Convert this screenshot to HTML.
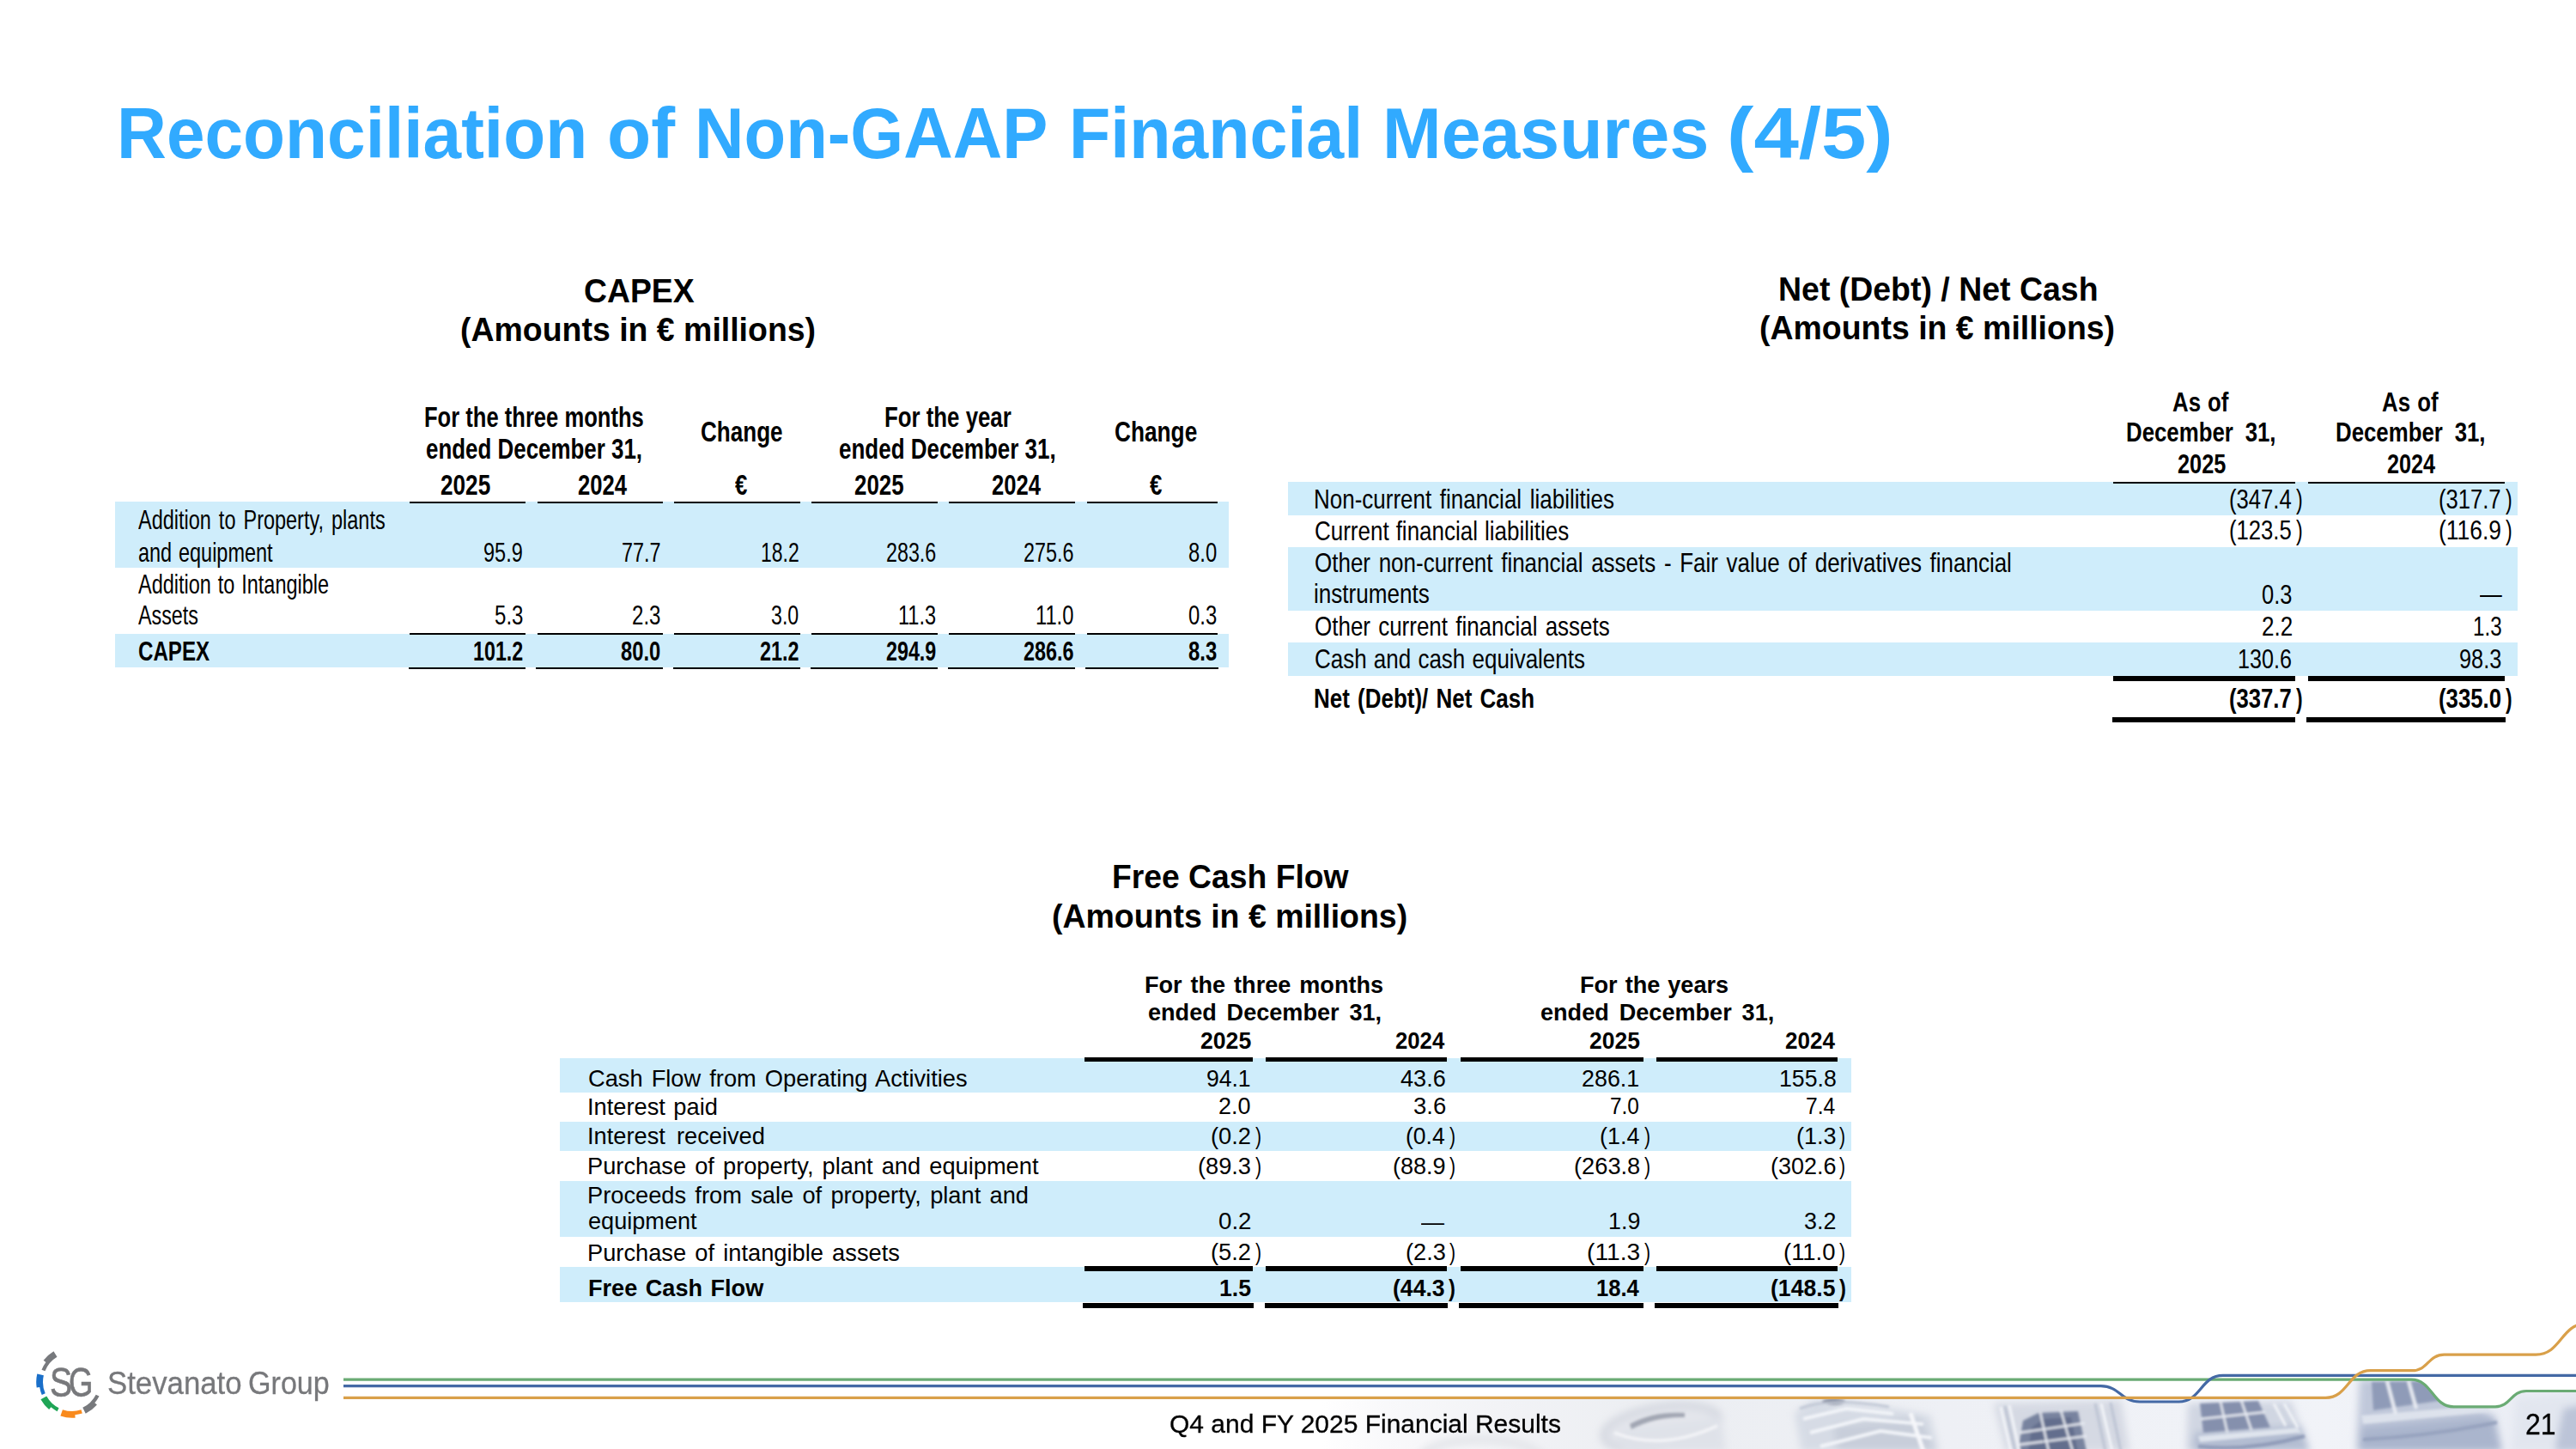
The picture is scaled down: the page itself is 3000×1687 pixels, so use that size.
<!DOCTYPE html>
<html><head><meta charset="utf-8"><title>Reconciliation of Non-GAAP Financial Measures (4/5)</title>
<style>
html,body{margin:0;padding:0;background:#fff}
body{width:3000px;height:1687px;position:relative;overflow:hidden;font-family:"Liberation Sans",sans-serif;color:#000}
.t{position:absolute;white-space:pre;line-height:1;transform-origin:0 0;display:block}
.r{position:absolute}
svg{position:absolute;left:0;top:0}
</style></head><body>
<svg width="3000" height="1687" viewBox="0 0 3000 1687">

<defs>
<linearGradient id="pg" gradientUnits="userSpaceOnUse" x1="1540" y1="0" x2="3000" y2="0">
<stop offset="0" stop-color="#ffffff"/><stop offset="0.05" stop-color="#f9f9fb"/><stop offset="0.14" stop-color="#f2f3f6"/><stop offset="0.26" stop-color="#eceef2"/>
<stop offset="0.5" stop-color="#eef0f5"/><stop offset="0.8" stop-color="#f1f3f8"/><stop offset="1" stop-color="#e9ecf4"/>
</linearGradient>
<filter id="bl" x="-20%" y="-50%" width="140%" height="200%"><feGaussianBlur stdDeviation="4"/></filter>
<filter id="bs" x="-20%" y="-50%" width="140%" height="200%"><feGaussianBlur stdDeviation="1.4"/></filter>
<clipPath id="co"><path d="M400,1627.3 H2708.6 C2734.6,1627.2 2734.6,1595.7 2760.7,1595.7 H2809.2 C2827.8,1595.7 2827.8,1577.1 2846.5,1577.1 H2953.3 C2982.7,1577.1 2982.7,1541 3012,1541 V1700 H400 Z"/></clipPath>
<clipPath id="cg"><path d="M400,1606.2 H2808 C2832.8,1606.3 2832.8,1637.8 2857.6,1637.8 H2906 C2924.0,1637.8 2924.0,1619.5 2942,1619.5 H3001 V1700 H400 Z"/></clipPath>
</defs>
<g clip-path="url(#co)"><g clip-path="url(#cg)">
<rect x="1540" y="1590" width="1460" height="100" fill="url(#pg)"/>
<g filter="url(#bl)">
 <ellipse cx="1725" cy="1700" rx="70" ry="24" fill="none" stroke="#e4e6ea" stroke-width="10"/>
 <ellipse cx="1935" cy="1662" rx="68" ry="24" fill="#e4e6ec" stroke="#d6d9e1" stroke-width="9" transform="rotate(-9 1935 1662)"/>
 <path d="M1890,1690 L1885,1665 L2005,1650 L2010,1690 Z" fill="#dfe2e9"/>
 <path d="M2090,1645 L2112,1630 L2205,1640 L2248,1648 L2258,1690 L2098,1690 Z" fill="#d6dbe5"/>
 <path d="M2135,1660 L2235,1650 L2255,1690 L2140,1690 Z" fill="#c8ceda"/>
 <path d="M2322,1634 L2470,1630 L2480,1690 L2336,1690 Z" fill="#d5d9e3"/>
 <path d="M2546,1690 L2548,1634 L2668,1631 L2690,1690 Z" fill="#d0d6e2"/>
 <path d="M2553,1690 L2556,1668 L2680,1660 L2690,1690 Z" fill="#b3bdd2"/>
 <path d="M2744,1690 L2748,1606 L2850,1606 L2898,1645 L2912,1690 Z" fill="#c0c8da"/>
 <path d="M2748,1690 L2750,1662 L2905,1648 L2914,1690 Z" fill="#aab5cd"/>
 <path d="M2925,1690 L2930,1628 L3010,1622 L3010,1690 Z" fill="#e2e6ef"/>
 <path d="M2975,1690 L2985,1640 L3010,1635 L3010,1690 Z" fill="#bcc4d8"/>
</g>
<g filter="url(#bs)">
 <path d="M1898,1658 Q1925,1643 1962,1645 L1962,1650 Q1928,1649 1900,1664 Z" fill="#a1a6b2"/>
 <ellipse cx="2136" cy="1632" rx="14" ry="3.5" fill="#70768a"/>
 <path d="M2350,1690 L2356,1654 L2374,1645 L2420,1643 L2430,1690 Z" fill="#78839f"/>
 <path d="M2566,1668 L2562,1634 L2630,1631 L2644,1662 Z" fill="#8590ad"/>
 <path d="M2764,1642 L2762,1609 L2828,1608 L2846,1630 Z" fill="#8f9bb8"/>
 <path d="M2750,1648 L2896,1636 L2900,1644 L2752,1658 Z" fill="#dde2ec"/>
 <path d="M2560,1672 L2676,1662 L2680,1668 L2562,1679 Z" fill="#dfe4ed"/>
 <g stroke-width="3" fill="none">
  <path d="M2330,1638 L2342,1690 M2340,1636 L2352,1690" stroke="#f4f6fa"/>
  <path d="M2335,1637 L2347,1690 M2440,1634 L2452,1690 M2458,1633 L2470,1690" stroke="#bcc3d3"/>
  <path d="M2447,1634 L2460,1690" stroke="#f4f6fa"/>
  <path d="M2100,1652 L2150,1640 L2205,1646 M2108,1668 L2170,1652 L2240,1658 M2120,1684 L2190,1666 L2250,1674" stroke="#f3f5f9" stroke-width="4"/>
  <path d="M2096,1640 Q2130,1626 2200,1638" stroke="#bfc6d4" stroke-width="3"/>
  <path d="M2225,1645 L2240,1690" stroke="#f6f7fa" stroke-width="5"/>
  <path d="M1880,1668 Q1935,1690 2000,1660" stroke="#f2f3f6" stroke-width="4"/>
  <path d="M2660,1634 L2676,1662 M2648,1634 L2662,1660" stroke="#f2f4f8"/>
  <path d="M2560,1684 Q2620,1690 2684,1672" stroke="#8e9ab7" stroke-width="4"/>
  <path d="M2752,1676 Q2830,1672 2908,1656" stroke="#95a1bd" stroke-width="4"/>
 </g>
 <path d="M2362,1690 L2366,1662 L2380,1652 L2412,1650 L2420,1690 Z" fill="#636e8d"/>
 <g stroke="#e9ecf3" stroke-width="2.4" fill="none">
  <path d="M2376,1644 L2386,1690 M2400,1642 L2414,1690 M2352,1668 L2428,1657 M2351,1682 L2430,1672"/>
  <path d="M2586,1632 L2594,1668 M2610,1630 L2622,1665 M2563,1652 L2638,1644"/>
  <path d="M2780,1608 L2790,1646 M2805,1608 L2814,1640" stroke-width="4"/>
 </g>
</g>
</g></g>

<g fill="none" stroke-width="3.2">
<path d="M400,1606.2 H2808 C2832.8,1606.3 2832.8,1637.8 2857.6,1637.8 H2906 C2924.0,1637.8 2924.0,1619.5 2942,1619.5 H3001" stroke="#6aab74"/>
<path d="M400,1613.7 H2446.6 C2469.3,1613.8 2469.3,1632 2492,1632 H2537.4 C2563.1,1632 2563.1,1601.4 2588.7,1601.4 H3001" stroke="#4469a5"/>
<path d="M400,1627.3 H2708.6 C2734.6,1627.2 2734.6,1595.7 2760.7,1595.7 H2809.2 C2827.8,1595.7 2827.8,1577.1 2846.5,1577.1 H2953.3 C2982.7,1577.1 2982.7,1541 3012,1541" stroke="#d9a04a"/>
</g>
<path d="M66.49,1579.86 L62.47,1573.17 A41.8,41.8 0 0 0 50.62,1583.84 L53.41,1585.95 A38.3,38.3 0 0 0 48.49,1594.65 L52.48,1596.26 A34.0,34.0 0 0 1 66.49,1579.86 Z" fill="#77797d"/>
<path d="M50.87,1601.35 L43.27,1599.60 A41.8,41.8 0 0 0 42.71,1615.54 L46.17,1614.99 A38.3,38.3 0 0 0 48.74,1623.97 L52.70,1622.28 A34.0,34.0 0 0 1 50.87,1601.35 Z" fill="#1a6fc9"/>
<path d="M54.26,1625.48 L47.44,1629.27 A41.8,41.8 0 0 0 57.13,1641.02 L59.38,1638.34 A38.3,38.3 0 0 0 66.61,1643.13 L68.56,1639.29 A34.0,34.0 0 0 1 54.26,1625.48 Z" fill="#1fa556"/>
<path d="M72.93,1641.15 L70.39,1648.52 A41.8,41.8 0 0 0 87.64,1650.64 L87.34,1647.15 A38.3,38.3 0 0 0 95.84,1645.43 L94.51,1641.34 A34.0,34.0 0 0 1 72.93,1641.15 Z" fill="#f98a1c"/>
<path d="M96.30,1638.76 L99.72,1645.77 A41.8,41.8 0 0 0 112.95,1635.62 L110.31,1633.33 A38.3,38.3 0 0 0 115.53,1625.59 L111.69,1623.64 A34.0,34.0 0 0 1 96.30,1638.76 Z" fill="#77797d"/>
</svg>
<div class="r" style="left:134.3px;top:584.3px;width:1297.2px;height:76.9px;background:#cfedfb"></div>
<div class="r" style="left:134.3px;top:737.8px;width:1297.2px;height:39.0px;background:#cfedfb"></div>
<div class="r" style="left:477.3px;top:584.0px;width:134.5px;height:2.0px;background:#000"></div>
<div class="r" style="left:477.3px;top:737.3px;width:134.5px;height:2.0px;background:#000"></div>
<div class="r" style="left:475.6px;top:777.2px;width:136.5px;height:2.0px;background:#000"></div>
<div class="r" style="left:625.5px;top:584.0px;width:146.2px;height:2.0px;background:#000"></div>
<div class="r" style="left:625.5px;top:737.3px;width:146.2px;height:2.0px;background:#000"></div>
<div class="r" style="left:623.8px;top:777.2px;width:148.2px;height:2.0px;background:#000"></div>
<div class="r" style="left:785.2px;top:584.0px;width:146.7px;height:2.0px;background:#000"></div>
<div class="r" style="left:785.2px;top:737.3px;width:146.7px;height:2.0px;background:#000"></div>
<div class="r" style="left:783.5px;top:777.2px;width:148.7px;height:2.0px;background:#000"></div>
<div class="r" style="left:945.3px;top:584.0px;width:146.4px;height:2.0px;background:#000"></div>
<div class="r" style="left:945.3px;top:737.3px;width:146.4px;height:2.0px;background:#000"></div>
<div class="r" style="left:943.6px;top:777.2px;width:148.4px;height:2.0px;background:#000"></div>
<div class="r" style="left:1105.4px;top:584.0px;width:146.2px;height:2.0px;background:#000"></div>
<div class="r" style="left:1105.4px;top:737.3px;width:146.2px;height:2.0px;background:#000"></div>
<div class="r" style="left:1103.7px;top:777.2px;width:148.2px;height:2.0px;background:#000"></div>
<div class="r" style="left:1265.5px;top:584.0px;width:152.9px;height:2.0px;background:#000"></div>
<div class="r" style="left:1265.5px;top:737.3px;width:152.9px;height:2.0px;background:#000"></div>
<div class="r" style="left:1263.8px;top:777.2px;width:154.9px;height:2.0px;background:#000"></div>
<div class="r" style="left:1500.2px;top:560.7px;width:1431.8px;height:38.9px;background:#cfedfb"></div>
<div class="r" style="left:1500.2px;top:637.0px;width:1431.8px;height:73.6px;background:#cfedfb"></div>
<div class="r" style="left:1500.2px;top:748.2px;width:1431.8px;height:38.6px;background:#cfedfb"></div>
<div class="r" style="left:2461.2px;top:560.7px;width:211.8px;height:2.1px;background:#000"></div>
<div class="r" style="left:2461.2px;top:787.3px;width:211.8px;height:5.8px;background:#000"></div>
<div class="r" style="left:2687.9px;top:560.7px;width:229.5px;height:2.1px;background:#000"></div>
<div class="r" style="left:2687.9px;top:787.3px;width:229.5px;height:5.8px;background:#000"></div>
<div class="r" style="left:2459.5px;top:834.5px;width:213.9px;height:6.0px;background:#000"></div>
<div class="r" style="left:2685.8px;top:834.5px;width:232.1px;height:6.0px;background:#000"></div>
<div class="r" style="left:652.1px;top:1231.5px;width:1503.6px;height:40.2px;background:#cfedfb"></div>
<div class="r" style="left:652.1px;top:1305.5px;width:1503.6px;height:34.7px;background:#cfedfb"></div>
<div class="r" style="left:652.1px;top:1374.7px;width:1503.6px;height:65.7px;background:#cfedfb"></div>
<div class="r" style="left:652.1px;top:1475.0px;width:1503.6px;height:40.8px;background:#cfedfb"></div>
<div class="r" style="left:1263.2px;top:1230.6px;width:196.0px;height:5.4px;background:#000"></div>
<div class="r" style="left:1263.2px;top:1474.3px;width:196.0px;height:6.0px;background:#000"></div>
<div class="r" style="left:1474.2px;top:1230.6px;width:211.3px;height:5.4px;background:#000"></div>
<div class="r" style="left:1474.2px;top:1474.3px;width:211.3px;height:6.0px;background:#000"></div>
<div class="r" style="left:1700.8px;top:1230.6px;width:213.0px;height:5.4px;background:#000"></div>
<div class="r" style="left:1700.8px;top:1474.3px;width:213.0px;height:6.0px;background:#000"></div>
<div class="r" style="left:1929.1px;top:1230.6px;width:211.4px;height:5.4px;background:#000"></div>
<div class="r" style="left:1929.1px;top:1474.3px;width:211.4px;height:6.0px;background:#000"></div>
<div class="r" style="left:1261.1px;top:1517.4px;width:198.5px;height:6.0px;background:#000"></div>
<div class="r" style="left:1472.5px;top:1517.4px;width:213.0px;height:6.0px;background:#000"></div>
<div class="r" style="left:1699.1px;top:1517.4px;width:215.1px;height:6.0px;background:#000"></div>
<div class="r" style="left:1927.2px;top:1517.4px;width:213.5px;height:6.0px;background:#000"></div>
<span class="t" style="left:136.24px;top:113px;font-size:84.3px;transform:scaleX(0.9514);font-weight:bold;color:#31aaff">Reconciliation</span>
<span class="t" style="left:706.62px;top:113px;font-size:84.3px;transform:scaleX(0.9937);font-weight:bold;color:#31aaff">of</span>
<span class="t" style="left:808.98px;top:113px;font-size:84.3px;transform:scaleX(0.9448);font-weight:bold;color:#31aaff">Non-GAAP</span>
<span class="t" style="left:1244.92px;top:113px;font-size:84.3px;transform:scaleX(0.9364);font-weight:bold;color:#31aaff">Financial</span>
<span class="t" style="left:1609.71px;top:113px;font-size:84.3px;transform:scaleX(0.9778);font-weight:bold;color:#31aaff">Measures</span>
<span class="t" style="left:2011.13px;top:113px;font-size:84.3px;transform:scaleX(1.1177);font-weight:bold;color:#31aaff">(4/5)</span>
<span class="t" style="left:679.52px;top:320px;font-size:38.2px;transform:scaleX(0.9771);font-weight:bold">CAPEX</span>
<span class="t" style="left:535.62px;top:365px;font-size:38.2px;transform:scaleX(0.9808);font-weight:bold">(Amounts in € millions)</span>
<span class="t" style="left:2071.24px;top:318px;font-size:38.2px;transform:scaleX(0.9809);font-weight:bold">Net (Debt) / Net Cash</span>
<span class="t" style="left:2049.42px;top:363px;font-size:38.2px;transform:scaleX(0.9808);font-weight:bold">(Amounts in € millions)</span>
<span class="t" style="left:1294.85px;top:1002px;font-size:38.2px;transform:scaleX(0.9764);font-weight:bold">Free Cash Flow</span>
<span class="t" style="left:1225.42px;top:1048px;font-size:38.2px;transform:scaleX(0.9810);font-weight:bold">(Amounts in € millions)</span>
<span class="t" style="left:493.97px;top:469px;font-size:33.4px;transform:scaleX(0.7660);font-weight:bold">For the three months</span>
<span class="t" style="left:495.72px;top:506px;font-size:33.4px;transform:scaleX(0.7761);font-weight:bold">ended December 31,</span>
<span class="t" style="left:816.02px;top:486px;font-size:33.4px;transform:scaleX(0.7802);font-weight:bold">Change</span>
<span class="t" style="left:1029.75px;top:469px;font-size:33.4px;transform:scaleX(0.7730);font-weight:bold">For the year</span>
<span class="t" style="left:977.12px;top:506px;font-size:33.4px;transform:scaleX(0.7780);font-weight:bold">ended December 31,</span>
<span class="t" style="left:1298.41px;top:486px;font-size:33.4px;transform:scaleX(0.7859);font-weight:bold">Change</span>
<span class="t" style="left:512.82px;top:548px;font-size:33.4px;transform:scaleX(0.7839);font-weight:bold">2025</span>
<span class="t" style="left:672.73px;top:548px;font-size:33.4px;transform:scaleX(0.7679);font-weight:bold">2024</span>
<span class="t" style="left:855.60px;top:548px;font-size:33.4px;transform:scaleX(0.7722);font-weight:bold">€</span>
<span class="t" style="left:994.82px;top:548px;font-size:33.4px;transform:scaleX(0.7757);font-weight:bold">2025</span>
<span class="t" style="left:1154.83px;top:548px;font-size:33.4px;transform:scaleX(0.7665);font-weight:bold">2024</span>
<span class="t" style="left:1338.70px;top:548px;font-size:33.4px;transform:scaleX(0.7722);font-weight:bold">€</span>
<span class="t" style="left:161.20px;top:589px;font-size:32.0px;transform:scaleX(0.7330);word-spacing:3.52px">Addition to Property, plants</span>
<span class="t" style="left:160.87px;top:627px;font-size:32.0px;transform:scaleX(0.7330);word-spacing:1.86px">and equipment</span>
<span class="t" style="left:161.20px;top:664px;font-size:32.0px;transform:scaleX(0.7330);word-spacing:1.98px">Addition to Intangible</span>
<span class="t" style="left:161.20px;top:700px;font-size:32.0px;transform:scaleX(0.7282)">Assets</span>
<span class="t" style="left:160.85px;top:742px;font-size:32.0px;transform:scaleX(0.7543);font-weight:bold">CAPEX</span>
<span class="t" style="left:563.37px;top:627px;font-size:32.0px;transform:scaleX(0.7341)">95.9</span>
<span class="t" style="left:723.77px;top:627px;font-size:32.0px;transform:scaleX(0.7308)">77.7</span>
<span class="t" style="left:885.66px;top:627px;font-size:32.0px;transform:scaleX(0.7178)">18.2</span>
<span class="t" style="left:1031.57px;top:627px;font-size:32.0px;transform:scaleX(0.7281)">283.6</span>
<span class="t" style="left:1191.67px;top:627px;font-size:32.0px;transform:scaleX(0.7294)">275.6</span>
<span class="t" style="left:1383.86px;top:627px;font-size:32.0px;transform:scaleX(0.7449)">8.0</span>
<span class="t" style="left:575.65px;top:700px;font-size:32.0px;transform:scaleX(0.7520)">5.3</span>
<span class="t" style="left:735.85px;top:700px;font-size:32.0px;transform:scaleX(0.7520)">2.3</span>
<span class="t" style="left:898.18px;top:700px;font-size:32.0px;transform:scaleX(0.7239)">3.0</span>
<span class="t" style="left:1045.83px;top:700px;font-size:32.0px;transform:scaleX(0.7354)">11.3</span>
<span class="t" style="left:1205.72px;top:700px;font-size:32.0px;transform:scaleX(0.7407)">11.0</span>
<span class="t" style="left:1383.86px;top:700px;font-size:32.0px;transform:scaleX(0.7449)">0.3</span>
<span class="t" style="left:550.85px;top:742px;font-size:32.0px;transform:scaleX(0.7272);font-weight:bold">101.2</span>
<span class="t" style="left:723.06px;top:742px;font-size:32.0px;transform:scaleX(0.7423);font-weight:bold">80.0</span>
<span class="t" style="left:884.97px;top:742px;font-size:32.0px;transform:scaleX(0.7291);font-weight:bold">21.2</span>
<span class="t" style="left:1031.57px;top:742px;font-size:32.0px;transform:scaleX(0.7281);font-weight:bold">294.9</span>
<span class="t" style="left:1191.67px;top:742px;font-size:32.0px;transform:scaleX(0.7294);font-weight:bold">286.6</span>
<span class="t" style="left:1383.86px;top:742px;font-size:32.0px;transform:scaleX(0.7449);font-weight:bold">8.3</span>
<span class="t" style="left:2530.40px;top:452px;font-size:32.0px;transform:scaleX(0.8065);word-spacing:1.12px;font-weight:bold">As of</span>
<span class="t" style="left:2476.49px;top:487px;font-size:32.0px;transform:scaleX(0.8065);word-spacing:8.29px;font-weight:bold">December 31,</span>
<span class="t" style="left:2536.21px;top:524px;font-size:32.0px;transform:scaleX(0.7912);font-weight:bold">2025</span>
<span class="t" style="left:2774.40px;top:452px;font-size:32.0px;transform:scaleX(0.8065);word-spacing:1.24px;font-weight:bold">As of</span>
<span class="t" style="left:2720.49px;top:487px;font-size:32.0px;transform:scaleX(0.8065);word-spacing:8.29px;font-weight:bold">December 31,</span>
<span class="t" style="left:2780.01px;top:524px;font-size:32.0px;transform:scaleX(0.7885);font-weight:bold">2024</span>
<span class="t" style="left:1530.36px;top:566px;font-size:31.6px;transform:scaleX(0.8225);word-spacing:2.86px">Non-current financial liabilities</span>
<span class="t" style="left:1531.18px;top:603px;font-size:31.6px;transform:scaleX(0.8225);word-spacing:0.94px">Current financial liabilities</span>
<span class="t" style="left:1531.18px;top:640px;font-size:31.6px;transform:scaleX(0.8225);word-spacing:2.95px">Other non-current financial assets - Fair value of derivatives financial</span>
<span class="t" style="left:1530.35px;top:676px;font-size:31.6px;transform:scaleX(0.8262)">instruments</span>
<span class="t" style="left:1531.18px;top:714px;font-size:31.6px;transform:scaleX(0.8225);word-spacing:2.35px">Other current financial assets</span>
<span class="t" style="left:1531.18px;top:752px;font-size:31.6px;transform:scaleX(0.8225);word-spacing:1.19px">Cash and cash equivalents</span>
<span class="t" style="left:1530.36px;top:798px;font-size:31.6px;transform:scaleX(0.8225);word-spacing:2.35px;font-weight:bold">Net (Debt)/ Net Cash</span>
<span class="t" style="left:2596.39px;top:566px;font-size:31.6px;transform:scaleX(0.8124)">(347.4</span>
<span class="t" style="left:2674.30px;top:566px;font-size:31.6px;transform:scaleX(0.7333)">)</span>
<span class="t" style="left:2840.19px;top:566px;font-size:31.6px;transform:scaleX(0.8102)">(317.7</span>
<span class="t" style="left:2918.30px;top:566px;font-size:31.6px;transform:scaleX(0.7333)">)</span>
<span class="t" style="left:2596.39px;top:602px;font-size:31.6px;transform:scaleX(0.8124)">(123.5</span>
<span class="t" style="left:2674.30px;top:602px;font-size:31.6px;transform:scaleX(0.7333)">)</span>
<span class="t" style="left:2840.16px;top:602px;font-size:31.6px;transform:scaleX(0.8370)">(116.9</span>
<span class="t" style="left:2918.30px;top:602px;font-size:31.6px;transform:scaleX(0.7333)">)</span>
<span class="t" style="left:2633.79px;top:677px;font-size:31.6px;transform:scaleX(0.8052)">0.3</span>
<span class="t" style="left:2633.78px;top:714px;font-size:31.6px;transform:scaleX(0.8247)">2.2</span>
<span class="t" style="left:2879.57px;top:714px;font-size:31.6px;transform:scaleX(0.7642)">1.3</span>
<span class="t" style="left:2606.31px;top:752px;font-size:31.6px;transform:scaleX(0.7949)">130.6</span>
<span class="t" style="left:2863.90px;top:752px;font-size:31.6px;transform:scaleX(0.8011)">98.3</span>
<span class="t" style="left:2596.39px;top:798px;font-size:31.6px;transform:scaleX(0.8124);font-weight:bold">(337.7</span>
<span class="t" style="left:2674.40px;top:798px;font-size:31.6px;transform:scaleX(0.7222);font-weight:bold">)</span>
<span class="t" style="left:2840.19px;top:798px;font-size:31.6px;transform:scaleX(0.8147);font-weight:bold">(335.0</span>
<span class="t" style="left:2917.80px;top:798px;font-size:31.6px;transform:scaleX(0.7222);font-weight:bold">)</span>
<span class="t" style="left:1333.31px;top:1133px;font-size:27.3px;transform:scaleX(0.9925);word-spacing:2.40px;font-weight:bold">For the three months</span>
<span class="t" style="left:1336.51px;top:1165px;font-size:27.3px;transform:scaleX(0.9925);word-spacing:4.31px;font-weight:bold">ended December 31,</span>
<span class="t" style="left:1839.51px;top:1133px;font-size:27.3px;transform:scaleX(0.9925);word-spacing:1.47px;font-weight:bold">For the years</span>
<span class="t" style="left:1793.61px;top:1165px;font-size:27.3px;transform:scaleX(0.9925);word-spacing:4.41px;font-weight:bold">ended December 31,</span>
<span class="t" style="left:1397.70px;top:1198px;font-size:27.3px;transform:scaleX(0.9745);font-weight:bold">2025</span>
<span class="t" style="left:1624.70px;top:1198px;font-size:27.3px;transform:scaleX(0.9424);font-weight:bold">2024</span>
<span class="t" style="left:1850.80px;top:1198px;font-size:27.3px;transform:scaleX(0.9695);font-weight:bold">2025</span>
<span class="t" style="left:2078.80px;top:1198px;font-size:27.3px;transform:scaleX(0.9538);font-weight:bold">2024</span>
<span class="t" style="left:684.60px;top:1242px;font-size:27.3px;transform:scaleX(0.9980);word-spacing:2.52px">Cash Flow from Operating Activities</span>
<span class="t" style="left:683.60px;top:1275px;font-size:27.3px;transform:scaleX(0.9980);word-spacing:1.95px">Interest paid</span>
<span class="t" style="left:683.60px;top:1309px;font-size:27.3px;transform:scaleX(0.9980);word-spacing:5.50px">Interest received</span>
<span class="t" style="left:683.60px;top:1344px;font-size:27.3px;transform:scaleX(0.9980);word-spacing:2.52px">Purchase of property, plant and equipment</span>
<span class="t" style="left:683.60px;top:1378px;font-size:27.3px;transform:scaleX(0.9980);word-spacing:2.72px">Proceeds from sale of property, plant and</span>
<span class="t" style="left:684.61px;top:1408px;font-size:27.3px;transform:scaleX(0.9930)">equipment</span>
<span class="t" style="left:683.60px;top:1445px;font-size:27.3px;transform:scaleX(0.9980);word-spacing:2.66px">Purchase of intangible assets</span>
<span class="t" style="left:684.81px;top:1486px;font-size:27.3px;transform:scaleX(0.9925);word-spacing:2.02px;font-weight:bold">Free Cash Flow</span>
<span class="t" style="left:1404.93px;top:1242px;font-size:27.3px;transform:scaleX(0.9716)">94.1</span>
<span class="t" style="left:1631.10px;top:1242px;font-size:27.3px;transform:scaleX(0.9933)">43.6</span>
<span class="t" style="left:1842.32px;top:1242px;font-size:27.3px;transform:scaleX(0.9845)">286.1</span>
<span class="t" style="left:2071.95px;top:1242px;font-size:27.3px;transform:scaleX(0.9765)">155.8</span>
<span class="t" style="left:1418.71px;top:1274px;font-size:27.3px;transform:scaleX(0.9873)">2.0</span>
<span class="t" style="left:1645.69px;top:1274px;font-size:27.3px;transform:scaleX(1.0066)">3.6</span>
<span class="t" style="left:1875.11px;top:1274px;font-size:27.3px;transform:scaleX(0.8949)">7.0</span>
<span class="t" style="left:2102.90px;top:1274px;font-size:27.3px;transform:scaleX(0.9003)">7.4</span>
<span class="t" style="left:1410.20px;top:1309px;font-size:27.3px;transform:scaleX(0.9988)">(0.2</span>
<span class="t" style="left:1461.60px;top:1309px;font-size:27.3px;transform:scaleX(0.7750)">)</span>
<span class="t" style="left:1637.13px;top:1309px;font-size:27.3px;transform:scaleX(0.9726)">(0.4</span>
<span class="t" style="left:1687.90px;top:1309px;font-size:27.3px;transform:scaleX(0.7750)">)</span>
<span class="t" style="left:1863.01px;top:1309px;font-size:27.3px;transform:scaleX(0.9857)">(1.4</span>
<span class="t" style="left:1914.60px;top:1309px;font-size:27.3px;transform:scaleX(0.7750)">)</span>
<span class="t" style="left:2092.11px;top:1309px;font-size:27.3px;transform:scaleX(0.9899)">(1.3</span>
<span class="t" style="left:2142.40px;top:1309px;font-size:27.3px;transform:scaleX(0.7750)">)</span>
<span class="t" style="left:1395.20px;top:1344px;font-size:27.3px;transform:scaleX(0.9961)">(89.3</span>
<span class="t" style="left:1461.60px;top:1344px;font-size:27.3px;transform:scaleX(0.7750)">)</span>
<span class="t" style="left:1622.21px;top:1344px;font-size:27.3px;transform:scaleX(0.9911)">(88.9</span>
<span class="t" style="left:1687.90px;top:1344px;font-size:27.3px;transform:scaleX(0.7750)">)</span>
<span class="t" style="left:1833.10px;top:1344px;font-size:27.3px;transform:scaleX(0.9984)">(263.8</span>
<span class="t" style="left:1914.60px;top:1344px;font-size:27.3px;transform:scaleX(0.7750)">)</span>
<span class="t" style="left:2062.21px;top:1344px;font-size:27.3px;transform:scaleX(0.9878)">(302.6</span>
<span class="t" style="left:2142.40px;top:1344px;font-size:27.3px;transform:scaleX(0.7750)">)</span>
<span class="t" style="left:1418.69px;top:1408px;font-size:27.3px;transform:scaleX(1.0150)">0.2</span>
<span class="t" style="left:1873.33px;top:1408px;font-size:27.3px;transform:scaleX(0.9837)">1.9</span>
<span class="t" style="left:2101.32px;top:1408px;font-size:27.3px;transform:scaleX(0.9842)">3.2</span>
<span class="t" style="left:1410.20px;top:1444px;font-size:27.3px;transform:scaleX(0.9988)">(5.2</span>
<span class="t" style="left:1461.60px;top:1444px;font-size:27.3px;transform:scaleX(0.7750)">)</span>
<span class="t" style="left:1637.11px;top:1444px;font-size:27.3px;transform:scaleX(0.9943)">(2.3</span>
<span class="t" style="left:1687.90px;top:1444px;font-size:27.3px;transform:scaleX(0.7750)">)</span>
<span class="t" style="left:1848.27px;top:1444px;font-size:27.3px;transform:scaleX(1.0326)">(11.3</span>
<span class="t" style="left:1914.60px;top:1444px;font-size:27.3px;transform:scaleX(0.7750)">)</span>
<span class="t" style="left:2077.20px;top:1444px;font-size:27.3px;transform:scaleX(1.0049)">(11.0</span>
<span class="t" style="left:2142.40px;top:1444px;font-size:27.3px;transform:scaleX(0.7750)">)</span>
<span class="t" style="left:1419.82px;top:1486px;font-size:27.3px;transform:scaleX(0.9765);font-weight:bold">1.5</span>
<span class="t" style="left:1622.23px;top:1486px;font-size:27.3px;transform:scaleX(0.9748);font-weight:bold">(44.3</span>
<span class="t" style="left:1686.60px;top:1486px;font-size:27.3px;transform:scaleX(0.8750);font-weight:bold">)</span>
<span class="t" style="left:1859.46px;top:1486px;font-size:27.3px;transform:scaleX(0.9387);font-weight:bold">18.4</span>
<span class="t" style="left:2062.23px;top:1486px;font-size:27.3px;transform:scaleX(0.9748);font-weight:bold">(148.5</span>
<span class="t" style="left:2141.60px;top:1486px;font-size:27.3px;transform:scaleX(0.8750);font-weight:bold">)</span>
<span class="t" style="left:1361.80px;top:1643px;font-size:30.0px;transform:scaleX(0.9989);-webkit-text-stroke:0.3px #000">Q4 and FY 2025 Financial Results</span>
<span class="t" style="left:2941.17px;top:1641px;font-size:34.3px;transform:scaleX(0.9314);-webkit-text-stroke:0.3px #000">21</span>
<span class="t" style="left:57.89px;top:1585px;font-size:48.5px;transform:scaleX(0.8069);-webkit-text-stroke:0.7px #77787b;color:#77787b">S</span>
<span class="t" style="left:79.70px;top:1585px;font-size:48.5px;transform:scaleX(0.7515);-webkit-text-stroke:0.7px #77787b;color:#77787b">G</span>
<span class="t" style="left:124.57px;top:1592px;font-size:37.5px;transform:scaleX(0.9274);-webkit-text-stroke:0.3px #77787b;color:#77787b">Stevanato</span>
<span class="t" style="left:289.39px;top:1592px;font-size:37.5px;transform:scaleX(0.9095);-webkit-text-stroke:0.3px #77787b;color:#77787b">Group</span>
<span class="t" style="left:2887.50px;top:676px;font-size:31.6px;transform:scaleX(0.8156)">—</span>
<span class="t" style="left:1655.00px;top:1409px;font-size:27.3px;transform:scaleX(0.9893)">—</span>
</body></html>
